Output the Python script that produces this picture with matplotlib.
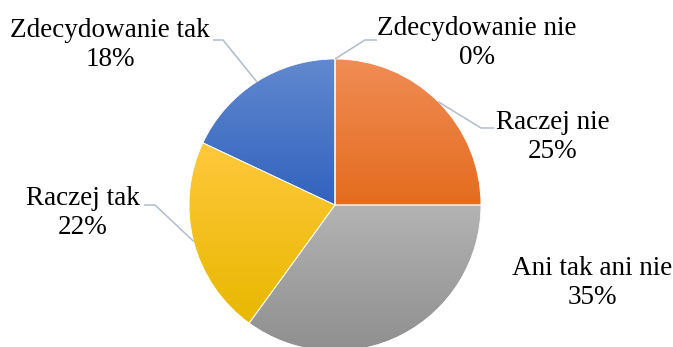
import numpy as np
import matplotlib
matplotlib.use("Agg")
import matplotlib.pyplot as plt
from matplotlib.colors import to_rgb

labels = ["Zdecydowanie nie", "Raczej nie", "Ani tak ani nie", "Raczej tak", "Zdecydowanie tak"]
values = [0, 25, 35, 22, 18]

# top / bottom colours of the gradient in each slice
top_colors = ["#f29a66", "#f08c55", "#b3b3b3", "#ffc83c", "#6189cf"]
bottom_colors = ["#e46c1e", "#e46c1e", "#8f8f8f", "#e8b800", "#3262be"]

# label centres and leader elbows (pixel layout, y up)
label_pos = [(477, 304), (553, 210), (592, 64), (83, 134), (110, 302)]
elbows = [((365, 307), (377, 307)), ((481, 219), (494, 219)), None,
          ((155, 142), (144, 142)), ((223, 307), (213, 307))]

W, H = 673, 347
cx, cy, r = 335, 142, 146

fig = plt.figure(figsize=(W / 100, H / 100), dpi=100)
ax = fig.add_axes([0, 0, 1, 1])

wedges, _ = ax.pie(values, startangle=90, counterclock=False,
                   center=(cx, cy), radius=r,
                   wedgeprops=dict(edgecolor="white", linewidth=0.6))

for w, ct, cb in zip(wedges, top_colors, bottom_colors):
    w.set_facecolor("none")
    w.set_zorder(3)
    if w.theta1 == w.theta2:
        continue
    bb = w.get_path().get_extents()
    t = np.linspace(0, 1, 200)[:, None]
    grad = (1 - t) * np.array(to_rgb(ct)) + t * np.array(to_rgb(cb))
    im = ax.imshow(grad[:, None, :], extent=[bb.x0, bb.x1, bb.y0, bb.y1],
                   origin="upper", aspect="auto", zorder=2, interpolation="bilinear")
    im.set_clip_path(w)

line_color = "#b0bccc"
for w, v, lab, pos, elb in zip(wedges, values, labels, label_pos, elbows):
    if elb is not None:
        ang = np.deg2rad((w.theta1 + w.theta2) / 2)
        sx, sy = cx + r * np.cos(ang), cy + r * np.sin(ang)
        (ex, ey), (fx, fy) = elb
        ax.plot([sx, ex, fx], [sy, ey, fy], color=line_color, lw=1.1,
                solid_capstyle="butt", zorder=4)
    ax.text(pos[0], pos[1], f"{lab}\n{v}%", ha="center", va="center",
            multialignment="center", fontsize=19.5, family="Liberation Serif",
            linespacing=1.22, color="black", zorder=5)

ax.set_xlim(0, W)
ax.set_ylim(0, H)
ax.set_aspect("auto")
ax.axis("off")

fig.savefig("out.png", dpi=100, facecolor="white")
